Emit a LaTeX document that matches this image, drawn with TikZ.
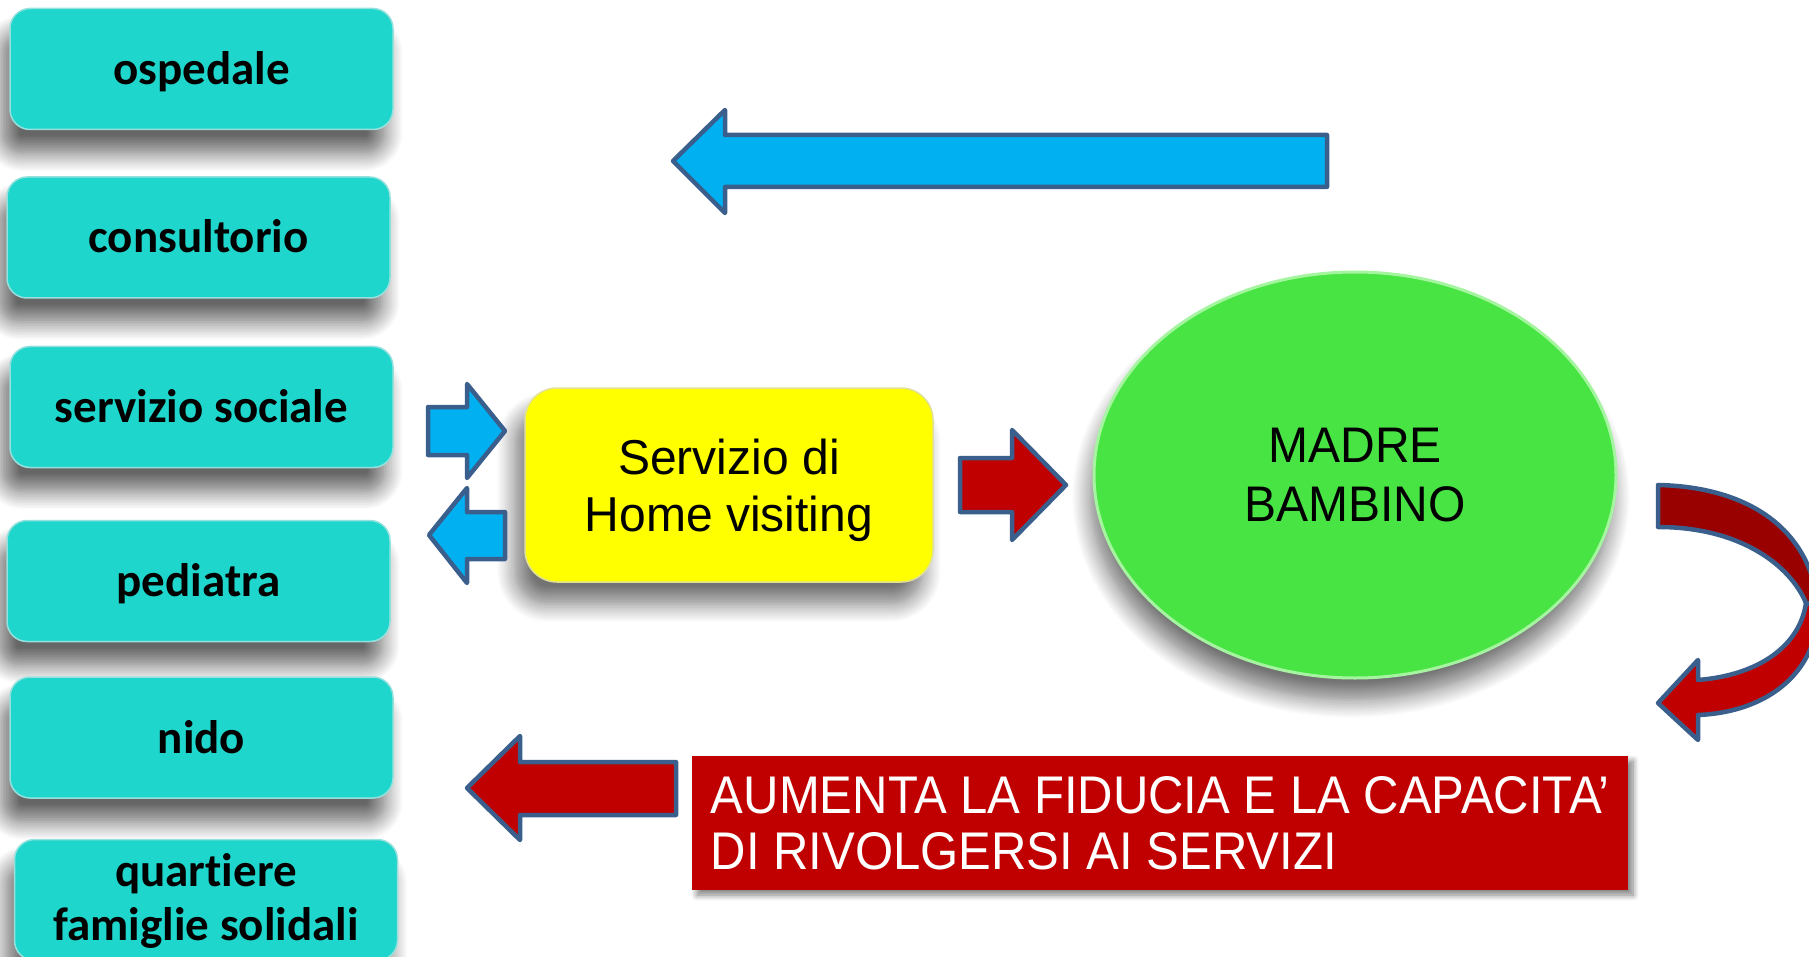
\documentclass[tikz,border=0pt]{standalone}
\usepackage{fontspec}
\setmainfont{Liberation Sans}
\newfontfamily\boxfont[Ligatures=NoCommon]{Carlito}
\newfontfamily\hvfont[FakeStretch=0.98]{Liberation Sans}
\newfontfamily\mbfont[FakeStretch=0.96]{Liberation Sans}
\newfontfamily\msgfont[FakeStretch=0.925]{Liberation Sans}
\usetikzlibrary{shapes.geometric,shadows.blur}

\definecolor{boxteal}{RGB}{31,214,204}
\definecolor{boxedge}{RGB}{150,225,222}
\definecolor{arrowblue}{RGB}{0,176,240}
\definecolor{arrowred}{RGB}{192,0,0}
\definecolor{arrowdark}{RGB}{153,0,0}
\definecolor{outline}{RGB}{59,95,140}
\definecolor{hvyellow}{RGB}{255,255,0}
\definecolor{hvedge}{RGB}{225,225,150}
\definecolor{mbgreen}{RGB}{72,228,67}
\definecolor{mbrim}{RGB}{165,245,160}

\tikzset{
	service/.style={rectangle, rounded corners=20pt, fill=boxteal, draw=boxedge, line width=1.5pt,
		minimum width=383pt, minimum height=121pt, text height=31pt, text depth=0pt,
		font=\boxfont\bfseries\fontsize{47}{51}\selectfont,
		blur shadow={shadow xshift=-8pt, shadow yshift=-24pt, shadow blur radius=18pt, shadow blur steps=12, shadow opacity=60}},
	servicetext/.style={anchor=base, inner sep=0pt, font=\boxfont\bfseries\fontsize{47}{51}\selectfont},
	hvbox/.style={rectangle, rounded corners=32pt, fill=hvyellow, draw=hvedge, line width=1.5pt,
		minimum width=408pt, minimum height=194pt, align=center, text depth=0pt, font=\hvfont\fontsize{49}{57}\selectfont,
		blur shadow={shadow xshift=-10pt, shadow yshift=-22pt, shadow blur radius=18pt, shadow blur steps=12, shadow opacity=55}},
	mbnode/.style={ellipse, minimum width=522pt, minimum height=406pt, inner sep=0pt, fill=mbgreen,
		draw=mbrim, line width=3pt, align=center, font=\mbfont\fontsize{50}{59}\selectfont,
		blur shadow={shadow xshift=-4pt, shadow yshift=-22pt, shadow blur radius=18pt, shadow blur steps=12, shadow opacity=55}},
	msgbox/.style={rectangle, fill=arrowred, text=white, minimum width=936pt, minimum height=134pt,
		align=left, font=\msgfont\fontsize{53}{56}\selectfont,
		blur shadow={shadow xshift=5pt, shadow yshift=-5pt, shadow blur radius=6pt, shadow blur steps=8, shadow opacity=50}},
	blockarrow/.style={draw=outline, line width=4.5pt, line join=round}
}

\begin{document}
\begin{tikzpicture}[x=1pt,y=-1pt]

		\useasboundingbox (0,0) rectangle (1809,957);

		\node[service] (osp) at (201.5,69) {ospedale};
		\node[service] (cons) at (198.5,237.5) {consultorio};
		\node[service] (soc) at (201.5,407) {servizio sociale};
		\node[service] (ped) at (198.5,581) {pediatra};
		\node[service] (nido) at (201.5,737.5) {nido};
		\node[service] (quart) at (206,900) {};
		\node[servicetext] (quartA) at (206,886) {quartiere};
		\node[servicetext] (quartB) at (206,940) {famiglie solidali};

		\node[hvbox] (hv) at (729,485) {Servizio di\\Home visiting};
		\node[mbnode] (mb) at (1355,475) {MADRE\\BAMBINO};
		\node[msgbox] (msg) at (1160,823) {AUMENTA LA FIDUCIA E LA CAPACITA’\\DI RIVOLGERSI AI SERVIZI};

		\draw[blockarrow, fill=arrowblue] (673,161) -- (725,110) -- (725,135) -- (1327,135)
			-- (1327,187) -- (725,187) -- (725,213) -- cycle;

		\draw[blockarrow, fill=arrowblue] (505,431) -- (467,384) -- (467,407) -- (428,407)
			-- (428,455) -- (467,455) -- (467,478) -- cycle;
		\draw[blockarrow, fill=arrowblue] (429,535) -- (467,488) -- (467,512) -- (505,512)
			-- (505,559) -- (467,559) -- (467,583) -- cycle;

		\draw[blockarrow, fill=arrowred] (1066,485) -- (1012,430) -- (1012,458) -- (960,458)
			-- (960,512) -- (1012,512) -- (1012,540) -- cycle;

		\draw[blockarrow, fill=arrowred] (467,788) -- (520,736) -- (520,762) -- (676,762)
			-- (676,815) -- (520,815) -- (520,840) -- cycle;

		\draw[blockarrow, fill=arrowdark] (1658,485) .. controls (1750,487) and (1810,530) .. (1818,605)
			-- (1806,603) .. controls (1790,565) and (1740,527) .. (1658,527) -- cycle;
		\draw[blockarrow, fill=arrowred] (1818,605) .. controls (1820,670) and (1770,712) .. (1698,715)
			-- (1698,740) -- (1658,703) -- (1698,660) -- (1698,680)
			.. controls (1760,675) and (1800,645) .. (1806,603) -- cycle;

\end{tikzpicture}
\end{document}
